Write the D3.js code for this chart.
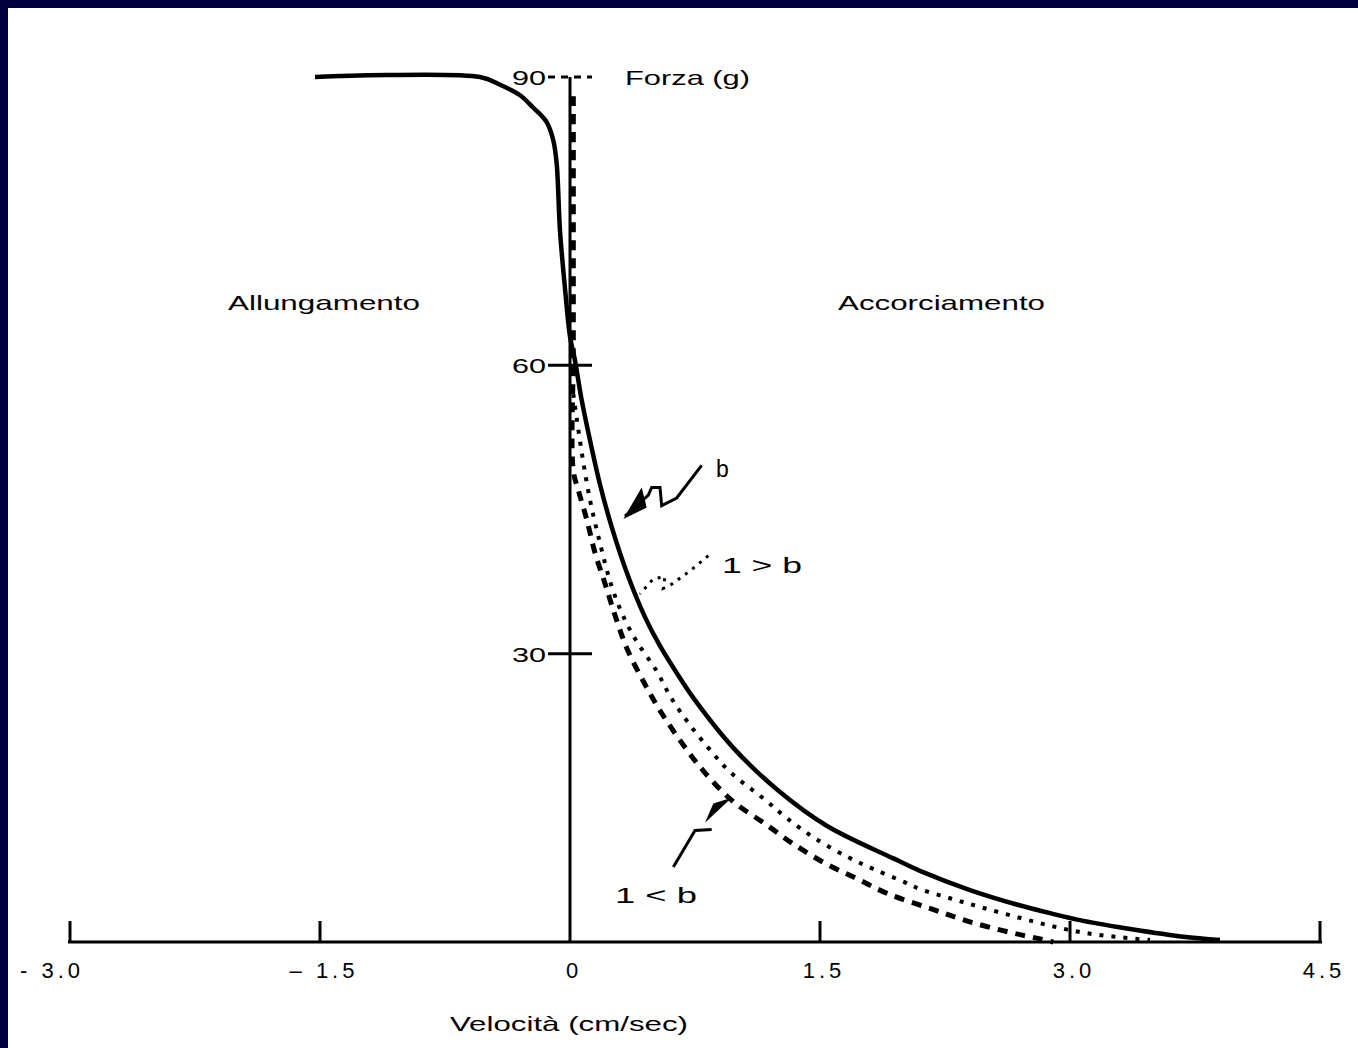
<!DOCTYPE html>
<html>
<head>
<meta charset="utf-8">
<script src="https://cdn.jsdelivr.net/npm/d3@7"></script>
<style>
  body { margin: 0; background: #fff; }
  svg { display: block; }
  text { font-family: "Liberation Sans", Arial, sans-serif; fill: #000; }
</style>
</head>
<body>
<div id="chart"></div>
<script>
var width = 1358;
var height = 1048;

// curve "b" (solid)
var solidV = [-1.53, -0.54, -0.42, -0.30, -0.22, -0.14, -0.10, -0.08, -0.06, -0.03, 0.0, 0.03, 0.07, 0.12, 0.18, 0.25, 0.35, 0.45, 0.54, 0.64, 0.74, 0.98, 1.24, 1.54, 1.94, 2.10, 2.40, 2.68, 2.88, 3.08, 3.38, 3.68, 3.90];
var solidF = [90, 90, 89.2, 88.1, 86.8, 85.3, 83.4, 81, 74, 68, 63, 60.5, 56.4, 52.2, 47.6, 43.2, 38.0, 33.8, 30.8, 28.0, 25.4, 20.2, 15.9, 12.1, 8.7, 7.4, 5.4, 3.9, 3.0, 2.2, 1.3, 0.55, 0.2];

// curve "1 > b" (dotted)
var dottedV = [0.02, 0.07, 0.12, 0.18, 0.25, 0.33, 0.41, 0.52, 0.60, 0.71, 0.83, 0.96, 1.17, 1.30, 1.46, 1.66, 1.82, 2.01, 2.10, 2.29, 2.47, 2.68, 2.88, 3.07, 3.27, 3.48];
var dottedF = [57, 51, 46, 41.5, 37, 33.5, 31.0, 28.2, 25.6, 22.8, 20.2, 17.7, 14.8, 12.9, 10.9, 8.9, 7.6, 6.2, 5.5, 4.5, 3.6, 2.6, 1.7, 1.0, 0.55, 0.2];

// curve "1 < b" (dashed)
var dashedV = [0.02, 0.02, 0.02, 0.02, 0.05, 0.10, 0.15, 0.21, 0.27, 0.34, 0.45, 0.55, 0.68, 0.81, 0.98, 1.17, 1.34, 1.53, 1.72, 1.91, 2.16, 2.38, 2.64, 2.80, 2.90];
var dashedF = [88, 75, 62, 49, 47, 44, 40.5, 37.3, 34, 30.6, 26.8, 23.8, 20.5, 17.6, 14.6, 12.3, 10.2, 8.2, 6.6, 5.0, 3.5, 2.2, 1.0, 0.4, 0];

var xTicks = [-3.0, -1.5, 0, 1.5, 3.0, 4.5];
var xTickLabels = ["- 3.0", "– 1.5", "0", "1.5", "3.0", "4.5"];
var yTicks = [30, 60, 90];
var yTickLabels = ["30", "60", "90"];

var x = d3.scaleLinear().domain([-3, 4.5]).range([70, 1320]);
var y = d3.scaleLinear().domain([0, 90]).range([942, 77]);

var svg = d3.select("#chart")
    .append("svg")
    .attr("width", width)
    .attr("height", height);

// navy frame on top and left
svg.append("rect").attr("x", 0).attr("y", 0).attr("width", width).attr("height", 8).attr("fill", "#000040");
svg.append("rect").attr("x", 0).attr("y", 0).attr("width", 8).attr("height", height).attr("fill", "#000040");

// axes
svg.append("line")
    .attr("x1", x(-3) - 2).attr("x2", x(4.5) + 2)
    .attr("y1", y(0)).attr("y2", y(0))
    .attr("stroke", "#000").attr("stroke-width", 3);
svg.append("line")
    .attr("x1", x(0)).attr("x2", x(0))
    .attr("y1", y(90)).attr("y2", y(0))
    .attr("stroke", "#000").attr("stroke-width", 3);

svg.selectAll(".xtick")
    .data(xTicks.filter(function(d){ return d !== 0; }))
    .enter()
    .append("line")
    .attr("x1", function(d){ return x(d); })
    .attr("x2", function(d){ return x(d); })
    .attr("y1", y(0))
    .attr("y2", y(0) - 21)
    .attr("stroke", "#000")
    .attr("stroke-width", 3);

svg.selectAll(".xlab")
    .data(xTicks)
    .enter()
    .append("text")
    .text(function(d, i){ return xTickLabels[i]; })
    .attr("x", function(d, i){ return i === 0 ? 20 : x(d) + 4; })
    .attr("y", 978)
    .attr("text-anchor", function(d, i){ return i === 0 ? "start" : "middle"; })
    .attr("font-size", "22px")
    .attr("letter-spacing", "4px");

svg.selectAll(".ytick")
    .data(yTicks)
    .enter()
    .append("line")
    .attr("x1", x(0) - 22)
    .attr("x2", x(0) + 22)
    .attr("y1", function(d){ return y(d); })
    .attr("y2", function(d){ return y(d); })
    .attr("stroke", "#000")
    .attr("stroke-width", 3)
    .attr("stroke-dasharray", function(d){ return d === 90 ? "7,6" : null; });

svg.selectAll(".ylab")
    .data(yTicks)
    .enter()
    .append("text")
    .text(function(d, i){ return yTickLabels[i]; })
    .attr("x", 546)
    .attr("y", function(d){ return y(d) + 8; })
    .attr("text-anchor", "end")
    .attr("font-size", "21px")
    .attr("textLength", 34)
    .attr("lengthAdjust", "spacingAndGlyphs");

// curves
var line = d3.line()
    .x(function(d){ return x(d[0]); })
    .y(function(d){ return y(d[1]); })
    .curve(d3.curveCatmullRom.alpha(0.5));

function pairs(vs, fs){
    return vs.map(function(v, i){ return [v, fs[i]]; });
}

svg.append("path")
    .attr("d", line(pairs(dashedV, dashedF)))
    .attr("fill", "none")
    .attr("stroke", "#000")
    .attr("stroke-width", 5)
    .attr("stroke-dasharray", "10,8");

svg.append("path")
    .attr("d", line(pairs(dottedV, dottedF)))
    .attr("fill", "none")
    .attr("stroke", "#000")
    .attr("stroke-width", 4)
    .attr("stroke-dasharray", "4,8");

svg.append("path")
    .attr("d", line(pairs(solidV, solidF)))
    .attr("fill", "none")
    .attr("stroke", "#000")
    .attr("stroke-width", 4.5);

// pointers (data units)
var plain = d3.line()
    .x(function(d){ return x(d[0]); })
    .y(function(d){ return y(d[1]); });

var ptrB = [[0.33, 44.3], [0.47, 46.5], [0.49, 47.3], [0.54, 47.3], [0.55, 45.4], [0.64, 46.2], [0.79, 49.6]];
var ptrBHead = [[0.32, 44.0], [0.46, 45.2], [0.43, 47.3]];
var ptrGt = [[0.83, 40.2], [0.72, 38.6], [0.60, 37.1], [0.56, 36.8], [0.57, 38.0], [0.50, 37.8], [0.42, 36.2]];
var ptrLt = [[0.62, 7.8], [0.75, 11.6], [0.85, 11.7], [0.74, 11.7]];
var ptrLtHead = [[0.97, 15.0], [0.81, 12.4], [0.86, 14.4]];

svg.append("path").attr("d", plain(ptrB)).attr("fill", "none").attr("stroke", "#000").attr("stroke-width", 3);
svg.append("path").attr("d", plain(ptrBHead) + "Z").attr("fill", "#000");
svg.append("path").attr("d", plain(ptrGt)).attr("fill", "none").attr("stroke", "#000").attr("stroke-width", 3).attr("stroke-dasharray", "3,6");
svg.append("path").attr("d", plain(ptrLt.slice(0, 3))).attr("fill", "none").attr("stroke", "#000").attr("stroke-width", 3);
svg.append("path").attr("d", plain(ptrLtHead) + "Z").attr("fill", "#000");

// labels
function label(txt, px, py, len, size){
    var t = svg.append("text")
        .text(txt)
        .attr("x", px)
        .attr("y", py)
        .attr("font-size", (size || 21) + "px");
    if (len) t.attr("textLength", len).attr("lengthAdjust", "spacingAndGlyphs");
    return t;
}

label("Forza (g)", 625, 85, 125);
label("Allungamento", 228, 310, 192);
label("Accorciamento", 838, 310, 207);
label("Velocità (cm/sec)", 450, 1031, 238);
label("b", 716, 477, null, 23);
label("1 > b", 722, 573, 80, 22);
label("1 < b", 615, 903, 82, 22);
</script>
</body>
</html>
